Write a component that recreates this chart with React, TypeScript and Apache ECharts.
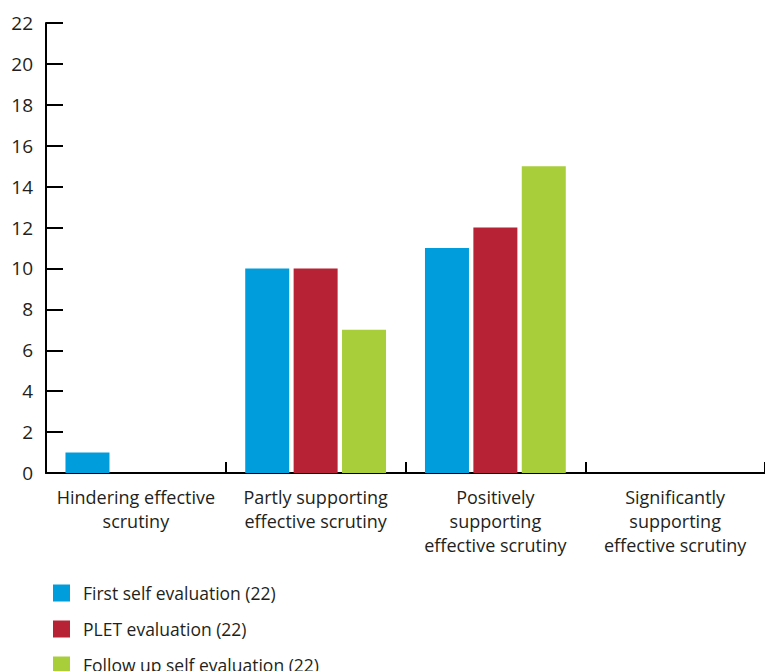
import React, { useEffect, useRef } from "react";
import * as echarts from "echarts";

const categories = [
  "Hindering effective\nscrutiny",
  "Partly supporting\neffective scrutiny",
  "Positively\nsupporting\neffective scrutiny",
  "Significantly\nsupporting\neffective scrutiny",
];
const seriesNames = [
  "First self evaluation (22)",
  "PLET evaluation (22)",
  "Follow up self evaluation (22)",
];
const firstSelf = [1, 10, 11, 0];
const pletEval = [0, 10, 12, 0];
const followUp = [0, 7, 15, 0];
const colors = ["#009ddc", "#b82235", "#a8ce3a"];

export default function App() {
  const ref = useRef<HTMLDivElement>(null);
  useEffect(() => {
    if (!ref.current) return;
    const chart = echarts.init(ref.current, undefined, { renderer: "svg" });
    const font = "Open Sans";
    const data = [firstSelf, pletEval, followUp];
    chart.setOption({
      animation: false,
      grid: { left: 46, right: -2, top: 23, bottom: 198, containLabel: false },
      legend: {
        orient: "vertical",
        left: 53,
        top: 584,
        height: 140,
        padding: 0,
        itemWidth: 17,
        itemHeight: 17,
        itemGap: 18,
        icon: "rect",
        data: seriesNames,
        textStyle: { fontFamily: font, fontSize: 17.5, color: "#231f20", padding: [0, 0, 0, 8] },
      },
      xAxis: {
        type: "category",
        data: categories,
        axisLine: { lineStyle: { color: "#000", width: 2 } },
        axisTick: { show: true, inside: true, length: 11, lineStyle: { color: "#000", width: 2 } },
        axisLabel: {
          fontFamily: font,
          fontSize: 18,
          color: "#231f20",
          margin: 12,
          lineHeight: 24,
          interval: 0,
        },
      },
      yAxis: {
        type: "value",
        min: 0,
        max: 22,
        interval: 2,
        splitLine: { show: false },
        axisLine: { show: true, lineStyle: { color: "#000", width: 2 } },
        axisTick: { show: true, inside: true, length: 17, lineStyle: { color: "#000", width: 2 } },
        axisLabel: { fontFamily: font, fontSize: 19, color: "#231f20", margin: 13 },
      },
      series: seriesNames.map((name, i) => ({
        name,
        type: "bar",
        data: data[i],
        barWidth: 44,
        barGap: "10%",
        itemStyle: { color: colors[i] },
      })),
    });
    return () => chart.dispose();
  }, []);
  return <div ref={ref} style={{ width: 765, height: 671, position: "absolute", left: 0, top: 0 }} />;
}
